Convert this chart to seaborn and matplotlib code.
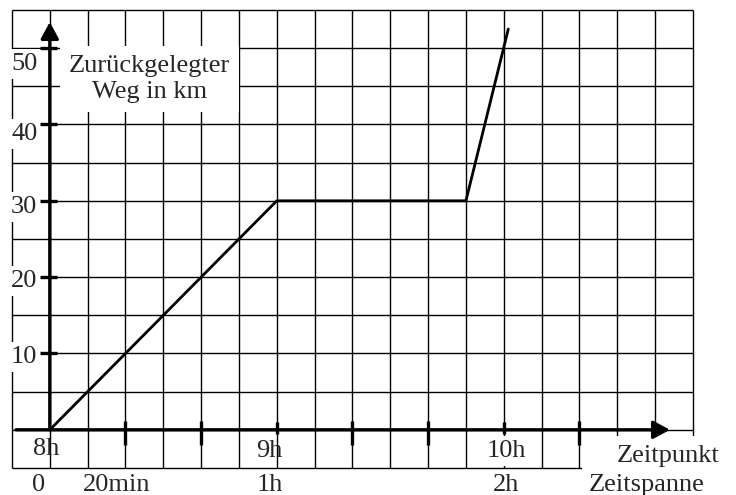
import matplotlib
matplotlib.use("Agg")
import matplotlib.pyplot as plt
import seaborn as sns
import pandas as pd

# ---- data ----
minutes = [0, 60, 110, 121.2]          # minutes after 8h
distance_km = [0, 30, 30, 52.5]        # travelled distance
y_tick_values = [10, 20, 30, 40, 50]
y_tick_labels = ["10", "20", "30", "40", "50"]
time_labels = ["8h", "9h", "10h"]
time_positions = [0, 60, 120]
span_labels = ["0", "20min", "1h", "2h"]
span_positions = [0, 20, 60, 120]
major_tick_minutes = [20, 40, 80, 100, 140]
minor_tick_minutes = [60, 120]
y_title = "Zurückgelegter\nWeg in km"
x_title_time = "Zeitpunkt"
x_title_span = "Zeitspanne"

df = pd.DataFrame({"min": minutes, "km": distance_km})

sns.set_style("white")
plt.rcParams["font.family"] = ["Liberation Serif", "DejaVu Serif"]

W, H = 736, 495
X0, SX = 49.8, 3.783     # pixel of x=0, pixels per minute
Y0, SY = 429.8, 7.633    # pixel of y=0, pixels per km

fig = plt.figure(figsize=(W / 100, H / 100), dpi=100)
ax = fig.add_axes([0, 0, 1, 1])
ax.set_xlim(-X0 / SX, (W - X0) / SX)
ax.set_ylim((Y0 - H) / SY, Y0 / SY)
ax.axis("off")

def px(x, y):
    return (x - X0) / SX, (Y0 - y) / SY

FS = 19

# grid (10 min x 5 km)
for gx in range(-10, 171, 10):
    ax.plot([gx, gx], [-5, 55], color="black", lw=1.0, zorder=1, solid_capstyle="butt")
for gy in range(-5, 56, 5):
    ax.plot([-10, 170], [gy, gy], color="black", lw=1.0, zorder=1, solid_capstyle="butt")

# data line
sns.lineplot(data=df, x="min", y="km", color="black", lw=2.0, ax=ax, zorder=3,
             sort=False, estimator=None)

# axes with arrows
ax.annotate("", xy=(0, px(0, 22)[1]), xytext=(0, 0),
            arrowprops=dict(arrowstyle="-|>,head_length=0.5,head_width=0.27",
                            lw=2.4, color="black", shrinkA=0, shrinkB=0,
                            mutation_scale=20), zorder=6)
ax.annotate("", xy=(px(670, 0)[0], 0), xytext=(px(16, 0)[0], 0),
            arrowprops=dict(arrowstyle="-|>,head_length=0.5,head_width=0.27",
                            lw=2.4, color="black", shrinkA=0, shrinkB=0,
                            mutation_scale=20), zorder=6)

# ticks
for yv in y_tick_values:
    ax.plot([px(40, 0)[0], px(57, 0)[0]], [yv, yv], color="black", lw=2.4,
            zorder=6, solid_capstyle="butt")
for xv in major_tick_minutes:
    ax.plot([xv, xv], [px(0, 421)[1], px(0, 445)[1]], color="black", lw=2.4,
            zorder=6, solid_capstyle="butt")
for xv in minor_tick_minutes:
    ax.plot([xv, xv], [px(0, 422)[1], px(0, 434)[1]], color="black", lw=2.4,
            zorder=6, solid_capstyle="butt")

white = dict(facecolor="white", edgecolor="none", boxstyle="square,pad=0.15")

# y tick labels (baseline pixels)
y_base_px = {10: 363, 20: 287, 30: 213, 40: 140, 50: 70}
for yv, lab in zip(y_tick_values, y_tick_labels):
    xx, yy = px(11, y_base_px[yv])
    ax.text(xx, yy, lab, fontsize=FS, ha="left", va="baseline", zorder=4, bbox=white)

# y axis title
xx, yy = px(149.5, 79)
ax.text(xx, yy, y_title, fontsize=FS, ha="center", va="center", multialignment="center",
        linespacing=1.2, zorder=4,
        bbox=dict(facecolor="white", edgecolor="none", boxstyle="square,pad=0.35"))

# time labels (Zeitpunkt row)
time_dx = {"8h": -4, "9h": -7, "10h": 3}
time_base = {"8h": 455, "9h": 457, "10h": 457}
for lab, pos in zip(time_labels, time_positions):
    xx = pos + time_dx[lab] / SX
    yy = px(0, time_base[lab])[1]
    kw = dict(bbox=white) if lab == "10h" else {}
    ax.text(xx, yy, lab, fontsize=FS, ha="center", va="baseline", zorder=4, **kw)

# span labels (Zeitspanne row)
span_dx = {"0": -11, "20min": -8.5, "1h": -7, "2h": 2}
for lab, pos in zip(span_labels, span_positions):
    xx = pos + span_dx[lab] / SX
    yy = px(0, 491)[1]
    kw = dict(bbox=white) if lab == "2h" else {}
    ax.text(xx, yy, lab, fontsize=FS, ha="center", va="baseline", zorder=4, **kw)

# axis titles on x
xx, yy = px(668, 462)
ax.text(xx, yy, x_title_time, fontsize=FS, ha="center", va="baseline", zorder=4,
        bbox=dict(facecolor="white", edgecolor="none", boxstyle="square,pad=0.35"))
xx, yy = px(647, 491)
ax.text(xx, yy, x_title_span, fontsize=FS, ha="center", va="baseline", zorder=4,
        bbox=dict(facecolor="white", edgecolor="none", boxstyle="square,pad=0.25"))

fig.savefig("out.png", dpi=100, facecolor="white")
